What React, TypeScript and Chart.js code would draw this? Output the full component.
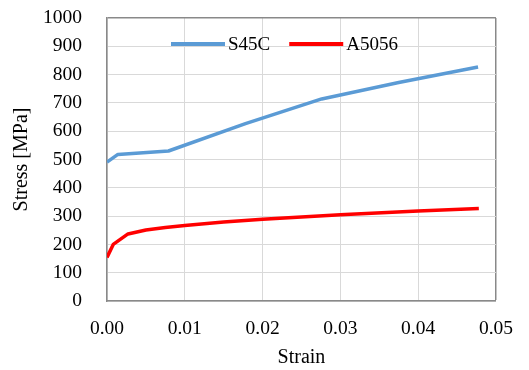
import React, { useEffect, useRef } from "react";
import { Chart, registerables } from "chart.js";

Chart.register(...registerables);

const s45cStrain = [0, 0.0014, 0.0079, 0.0178, 0.0276, 0.0375, 0.0477];
const s45cStress = [491, 518, 530, 627, 714, 772, 827];
const a5056Strain = [0, 0.0008, 0.0027, 0.005, 0.0075, 0.01, 0.015, 0.02, 0.03, 0.04, 0.0478];
const a5056Stress = [154, 200, 237, 251, 260, 267, 279, 289, 305, 318, 327];
const seriesNames = ["S45C", "A5056"];
const seriesColors = ["#5b9bd5", "#ff0000"];
const xTitle = "Strain";
const yTitle = "Stress [MPa]";

const FONT = "'Liberation Serif', 'Times New Roman', serif";

const legendPlugin = {
  id: "innerLegend",
  afterDatasetsDraw(chart: any) {
    const ctx = chart.ctx;
    ctx.save();
    ctx.font = `19px ${FONT}`;
    ctx.textBaseline = "middle";
    ctx.fillStyle = "#000";
    let x = 171;
    const y = 44;
    chart.data.datasets.forEach((ds: any) => {
      ctx.fillStyle = ds.borderColor;
      ctx.fillRect(x, y - 2, 54, 4);
      x += 57;
      ctx.fillStyle = "#000";
      ctx.fillText(ds.label, x, y + 1);
      x += ctx.measureText(ds.label).width + 19;
    });
    ctx.restore();
  },
};

export default function App() {
  const ref = useRef<HTMLCanvasElement>(null);
  useEffect(() => {
    if (!ref.current) return;
    const toPts = (xs: number[], ys: number[]) => xs.map((x, i) => ({ x, y: ys[i] }));
    const chart = new Chart(ref.current, {
      type: "scatter",
      data: {
        datasets: [
          {
            label: seriesNames[0],
            data: toPts(s45cStrain, s45cStress),
            borderColor: seriesColors[0],
            backgroundColor: seriesColors[0],
            showLine: true,
            borderWidth: 3.5,
            pointRadius: 0,
            borderJoinStyle: "round",
          },
          {
            label: seriesNames[1],
            data: toPts(a5056Strain, a5056Stress),
            borderColor: seriesColors[1],
            backgroundColor: seriesColors[1],
            showLine: true,
            borderWidth: 3.5,
            pointRadius: 0,
            borderJoinStyle: "round",
          },
        ],
      },
      options: {
        responsive: false,
        animation: false,
        devicePixelRatio: 1,
        layout: { padding: { top: 18, right: 30, left: 0, bottom: 0 } },
        plugins: { legend: { display: false }, tooltip: { enabled: false } },
        scales: {
          x: {
            type: "linear",
            min: 0,
            max: 0.05,
            afterFit: (s: any) => { s.height = 69; },
            ticks: {
              stepSize: 0.01,
              padding: 16,
              color: "#000",
              font: { family: FONT, size: 19.5 },
              callback: (v: any) => Number(v).toFixed(2),
              maxRotation: 0,
            },
            grid: {
              drawTicks: false,
              color: (c: any) => (c.tick && Math.abs(c.tick.value - 0.05) < 1e-9 ? "#898989" : "#d9d9d9"),
              lineWidth: (c: any) => (c.tick && Math.abs(c.tick.value - 0.05) < 1e-9 ? 1.5 : 1),
            },
            border: { color: "#898989", width: 1.5 },
            title: { display: true, text: xTitle, color: "#000", font: { family: FONT, size: 20 }, padding: { top: 0, bottom: 0 } },
          },
          y: {
            type: "linear",
            min: 0,
            max: 1000,
            afterFit: (s: any) => { s.width = 107; },
            ticks: {
              stepSize: 100,
              padding: 2,
              color: "#000",
              font: { family: FONT, size: 19.5 },
              callback: (v: any) => String(v),
            },
            grid: {
              drawTicks: true,
              tickLength: 23,
              tickColor: "rgba(0,0,0,0)",
              color: (c: any) => (c.tick && c.tick.value === 1000 ? "#898989" : "#d9d9d9"),
              lineWidth: (c: any) => (c.tick && c.tick.value === 1000 ? 1.5 : 1),
            },
            border: { color: "#898989", width: 1.5 },
            title: { display: true, text: yTitle, color: "#000", font: { family: FONT, size: 20 }, padding: { top: 10, bottom: 0 } },
          },
        },
      },
      plugins: [legendPlugin],
    });
    return () => chart.destroy();
  }, []);
  return (
    <div style={{ position: "fixed", left: 0, top: 0, width: 529, height: 370, background: "#fff" }}>
      <canvas ref={ref} width={529} height={370} style={{ width: 529, height: 370, display: "block" }} />
    </div>
  );
}
